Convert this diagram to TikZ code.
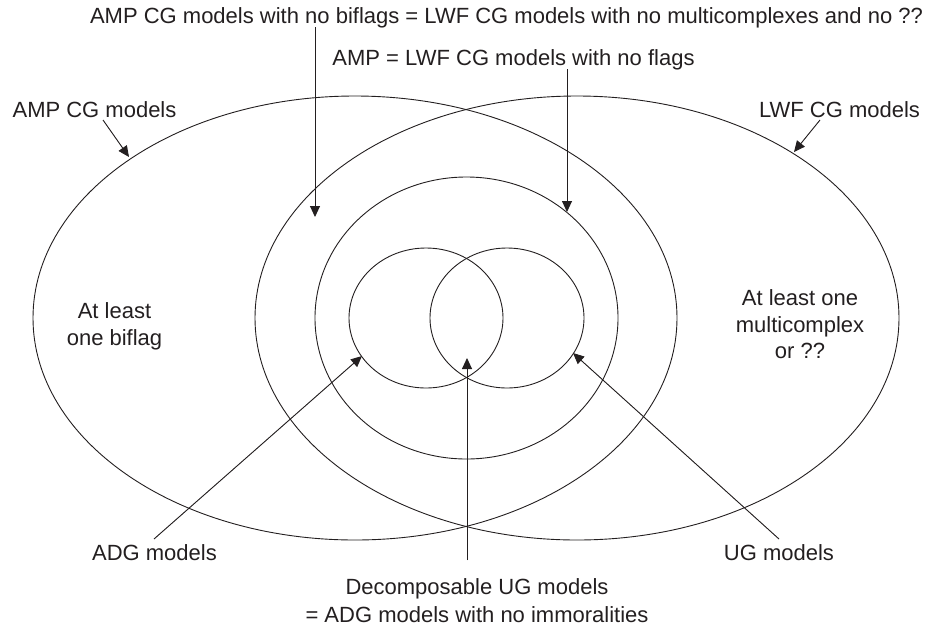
\documentclass[tikz,border=0pt]{standalone}
\usepackage{fontspec}
\setmainfont{Liberation Sans}
\usetikzlibrary{arrows.meta}
\definecolor{ink}{HTML}{231F20}
\begin{document}
\begin{tikzpicture}[x=1pt,y=-1pt,
  lbl/.style={font=\fontsize{22}{26}\selectfont, inner sep=0pt, anchor=base, text=ink},
  setline/.style={line width=0.9pt, draw=ink},
  pointer/.style={line width=0.9pt, draw=ink, -{Triangle[length=11pt,width=10pt]}, fill=ink}]
\useasboundingbox (0,0) rectangle (932,630);

% sets
\draw[setline] (355,318) ellipse [x radius=322pt, y radius=222pt];
\draw[setline] (577,318) ellipse [x radius=322pt, y radius=222pt];
\draw[setline] (466.5,318) ellipse [x radius=151.5pt, y radius=141pt];
\draw[setline] (426,318) ellipse [x radius=77pt, y radius=70pt];
\draw[setline] (507,318) ellipse [x radius=77pt, y radius=70pt];

% labels
\node[lbl] (top1) at (506.5,23) {AMP CG models with no biflags = LWF CG models with no multicomplexes and no ??};
\node[lbl] (top2) at (513.5,65) {AMP = LWF CG models with no flags};
\node[lbl] (amp) at (94.5,117) {AMP CG models};
\node[lbl] (lwf) at (839.5,117) {LWF CG models};
\node[lbl] (bif1) at (114.5,318) {At least};
\node[lbl] (bif2) at (114.5,345) {one biflag};
\node[lbl] (mc1) at (800,305) {At least one};
\node[lbl] (mc2) at (800,332) {multicomplex};
\node[lbl] (mc3) at (800,358) {or ??};
\node[lbl] (adg) at (154.5,560) {ADG models};
\node[lbl] (ug) at (779,560) {UG models};
\node[lbl] (dec1) at (477,594) {Decomposable UG models};
\node[lbl] (dec2) at (477,622) {= ADG models with no immoralities};

% connector ends
\coordinate (topAtail) at (315,27);
\coordinate (topAtip) at (315,217);
\coordinate (topBtail) at (567,69);
\coordinate (topBtip) at (567,212);
\coordinate (ampTail) at (103,120);
\coordinate (ampTip) at (129,157);
\coordinate (lwfTail) at (820,120);
\coordinate (lwfTip) at (794,152);
\coordinate (adgTail) at (154,539);
\coordinate (adgTip) at (362,356);
\coordinate (ugTail) at (779,539);
\coordinate (ugTip) at (573,353);
\coordinate (decTail) at (467,560);
\coordinate (decTip) at (467,358);

\draw[pointer] (topAtail) -- (topAtip);
\draw[pointer] (topBtail) -- (topBtip);
\draw[pointer] (ampTail) -- (ampTip);
\draw[pointer] (lwfTail) -- (lwfTip);
\draw[pointer] (adgTail) -- (adgTip);
\draw[pointer] (ugTail) -- (ugTip);
\draw[pointer] (decTail) -- (decTip);
\end{tikzpicture}
\end{document}
